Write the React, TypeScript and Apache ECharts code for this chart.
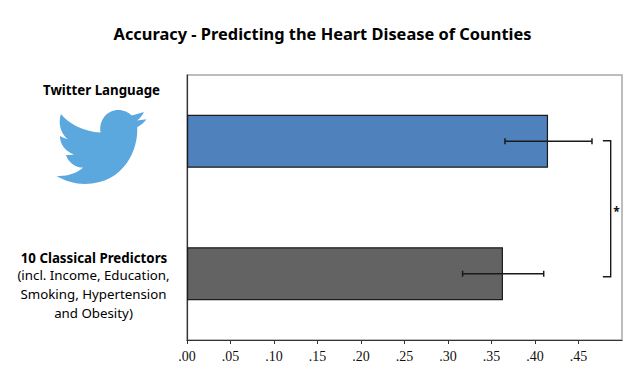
import React, { useEffect, useRef } from "react";
import * as echarts from "echarts";

const categories = ["Twitter Language", "10 Classical Predictors"];
const accuracy = [0.415, 0.3632];
const errorLow = [0.3655, 0.3168];
const errorHigh = [0.4655, 0.41];
const barColors = ["#4f81bd", "#636363"];
const xTicks = [0, 0.05, 0.1, 0.15, 0.2, 0.25, 0.3, 0.35, 0.4, 0.45];
const bracketX = [0.478, 0.487];
const title = "Accuracy - Predicting the Heart Disease of Counties";
const classicalLines = ["(incl. Income, Education,", "Smoking, Hypertension", "and Obesity)"];

const birdPath =
  "M183 132 C205 160 250 185 302 188 C296 150 322 120 355 120 C372 120 386 127 396 137 " +
  "L432 126 C428 136 420 146 411 152 L440 148 C433 158 423 166 412 172 " +
  "C416 235 375 342 255 342 C225 342 195 333 170 318 C200 320 228 312 250 293 " +
  "C225 293 205 276 198 255 C206 256 214 256 222 253 C198 245 180 225 180 198 " +
  "C187 202 195 206 203 207 C182 190 174 160 183 132 Z";

echarts.graphic.registerShape("bird", echarts.graphic.extendPath(birdPath, {}));

const FONT = "'Noto Sans', sans-serif";
const MAX = 0.5;

export default function App() {
  const ref = useRef<HTMLDivElement>(null);
  useEffect(() => {
    document.body.style.margin = "0";
    const chart = echarts.init(ref.current!, null, { renderer: "svg" });
    chart.setOption({
      animation: false,
      backgroundColor: "#fff",
      grid: { left: 187, top: 75, width: 435, height: 265, show: true, borderColor: "#a8a8a8", borderWidth: 1.5, backgroundColor: "transparent" },
      xAxis: {
        type: "value",
        min: 0,
        max: MAX,
        interval: 0.05,
        splitLine: { show: false },
        axisLine: { show: true, onZero: false, lineStyle: { color: "#333", width: 1.2 } },
        axisTick: { show: true, length: 4, customValues: xTicks, lineStyle: { color: "#333" } },
        axisLabel: {
          customValues: xTicks,
          margin: 9,
          fontFamily: "'Liberation Serif', serif",
          fontSize: 14,
          color: "#111",
          formatter: (v: number) => v.toFixed(2).replace(/^0/, ""),
        },
      },
      yAxis: {
        type: "category",
        inverse: true,
        data: categories,
        axisLine: { show: true, lineStyle: { color: "#333", width: 1.2 } },
        axisTick: { show: false },
        axisLabel: { show: false },
      },
      series: [
        {
          type: "bar",
          barWidth: "40%",
          data: accuracy.map((v, i) => ({
            value: v,
            itemStyle: { color: barColors[i], borderColor: "#1c1c1c", borderWidth: 1.2 },
          })),
        },
        {
          type: "custom",
          z: 5,
          data: categories.map((_, i) => [errorLow[i], errorHigh[i], i]),
          encode: { x: [0, 1], y: 2 },
          renderItem: (_p: any, api: any) => {
            const a = api.coord([api.value(0), api.value(2)]);
            const b = api.coord([api.value(1), api.value(2)]);
            const style = { stroke: "#1a1a1a", lineWidth: 1.5, fill: "none" };
            return {
              type: "group",
              children: [
                { type: "line", shape: { x1: a[0], y1: a[1], x2: b[0], y2: b[1] }, style },
                { type: "line", shape: { x1: a[0], y1: a[1] - 3, x2: a[0], y2: a[1] + 3 }, style },
                { type: "line", shape: { x1: b[0], y1: b[1] - 3, x2: b[0], y2: b[1] + 3 }, style },
              ],
            };
          },
        },
        {
          type: "custom",
          z: 5,
          data: [[bracketX[0], bracketX[1], 0, 1]],
          encode: { x: [0, 1], y: [2, 3] },
          renderItem: (_p: any, api: any) => {
            const t0 = api.coord([api.value(0), api.value(2)]);
            const t1 = api.coord([api.value(1), api.value(2)]);
            const b1 = api.coord([api.value(1), api.value(3)]);
            const b0 = api.coord([api.value(0), api.value(3)]);
            return {
              type: "polyline",
              shape: { points: [[t0[0], t0[1] - 0.5], [t1[0], t1[1] - 0.5], [b1[0], b1[1] + 3], [b0[0], b0[1] + 3]] },
              style: { stroke: "#1a1a1a", lineWidth: 1.4, fill: "none" },
            };
          },
        },
      ],
      graphic: [
        { type: "text", x: 322.5, y: 33, style: { text: title, font: `bold 16.4px ${FONT}`, fill: "#000", align: "center", verticalAlign: "middle" } },
        { type: "text", x: 101.5, y: 90, style: { text: categories[0], font: `bold 13.3px ${FONT}`, fill: "#000", align: "center", verticalAlign: "middle" } },
        { type: "text", x: 94, y: 258, style: { text: categories[1], font: `bold 13.3px ${FONT}`, fill: "#000", align: "center", verticalAlign: "middle" } },
        ...classicalLines.map((line, i) => ({
          type: "text",
          x: 93.5,
          y: 275 + i * 19,
          style: { text: line, font: `13.3px ${FONT}`, fill: "#000", align: "center", verticalAlign: "middle" },
        })),
        { type: "text", x: 616.5, y: 211, style: { text: "*", font: `bold 12px ${FONT}`, fill: "#111", align: "center", verticalAlign: "middle" } },
        { type: "bird", x: 0, y: 70, scaleX: 1 / 3, scaleY: 1 / 3, style: { fill: "#5ba8de" } },
      ],
    });
    return () => chart.dispose();
  }, []);
  return <div ref={ref} style={{ width: 630, height: 378 }} />;
}
